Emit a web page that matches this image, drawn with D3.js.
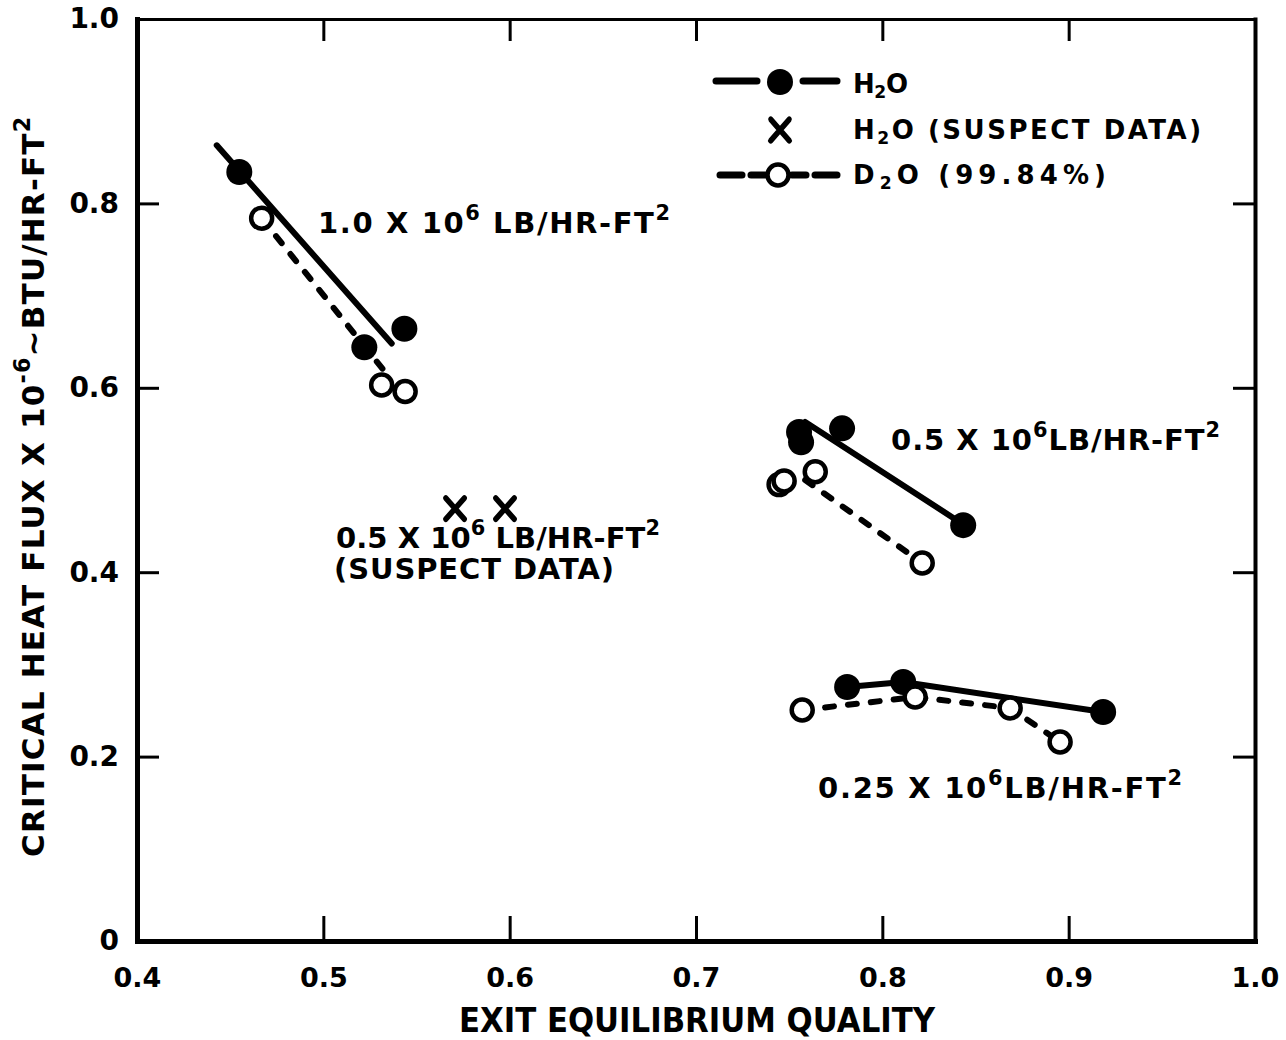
<!DOCTYPE html>
<html>
<head>
<meta charset="utf-8">
<script src="https://cdn.jsdelivr.net/npm/d3@7"></script>
<style>
  html, body { margin: 0; padding: 0; background: #fff; }
  svg { display: block; }
  text { font-family: "DejaVu Sans", "Liberation Sans", sans-serif; font-weight: bold; fill: #000; }
</style>
</head>
<body>
<svg id="chart" width="1286" height="1040"></svg>
<script>
// Critical heat flux versus exit equilibrium quality, light (H2O) and heavy (D2O) water,
// at three mass velocities.

// ---- axis ticks ----
const xTickValues = [0.4, 0.5, 0.6, 0.7, 0.8, 0.9, 1.0];
const xTickLabels = ["0.4", "0.5", "0.6", "0.7", "0.8", "0.9", "1.0"];
const yTickValues = [0, 0.2, 0.4, 0.6, 0.8, 1.0];
const yTickLabels = ["0", "0.2", "0.4", "0.6", "0.8", "1.0"];

// ---- G = 1.0 x 10^6 lb/hr-ft2 : [quality, heat flux] ----
const h2oG100 = [[0.4549, 0.834], [0.5220, 0.644], [0.5435, 0.664]];
const d2oG100 = [[0.4669, 0.784], [0.5313, 0.603], [0.5439, 0.596]];
const h2oFitG100 = [[0.4428, 0.863], [0.5367, 0.648]];
const d2oFitG100 = [[0.4669, 0.784], [0.5320, 0.620]];

// ---- G = 0.5 x 10^6 lb/hr-ft2 ----
const h2oG050 = [[0.7553, 0.552], [0.7564, 0.541], [0.7784, 0.556], [0.8434, 0.451]];
const d2oG050 = [[0.7446, 0.495], [0.7473, 0.499], [0.7640, 0.509], [0.8214, 0.410]];
const h2oFitG050 = [[0.7586, 0.563], [0.8418, 0.454]];
const d2oFitG050 = [[0.7586, 0.500], [0.8214, 0.410]];

// ---- G = 0.5 x 10^6 lb/hr-ft2, suspect H2O data ----
const h2oSuspectG050 = [[0.5707, 0.469], [0.5975, 0.469]];

// ---- G = 0.25 x 10^6 lb/hr-ft2 (points joined in order) ----
const h2oG025 = [[0.7811, 0.2755], [0.8112, 0.2809], [0.9185, 0.2484]];
const d2oG025 = [[0.7570, 0.2505], [0.8176, 0.2646], [0.8686, 0.2527], [0.8954, 0.2158]];

// ---- scales ----
const svg = d3.select("#chart");
const x = d3.scaleLinear().domain([0.4, 1.0]).range([137, 1255]);
const y = d3.scaleLinear().domain([0, 1.0]).range([941, 19]);

const SOLID = { width: 6, dash: null };
const DASHED = { width: 6, dash: "9,14" };

// ---- frame and axes (ticks point inward) ----
function styleAxis(g, domainWidth, fontSize) {
  g.attr("font-family", null).attr("font-size", null);
  g.select(".domain").attr("stroke-width", domainWidth).attr("stroke-linecap", "square");
  g.selectAll(".tick line").attr("stroke-width", 3);
  g.selectAll(".tick text").attr("font-size", fontSize).attr("fill", "#000");
}

svg.append("g")
  .attr("transform", `translate(0,${y(1.0)})`)
  .call(d3.axisTop(x).tickValues(xTickValues.slice(1, -1)).tickFormat(() => "")
    .tickSize(-22).tickSizeOuter(0))
  .call(g => styleAxis(g, 3, 28));

svg.append("g")
  .attr("transform", `translate(${x(1.0)},0)`)
  .call(d3.axisRight(y).tickValues(yTickValues.slice(1, -1)).tickFormat(() => "")
    .tickSize(-22).tickSizeOuter(0))
  .call(g => styleAxis(g, 4, 28));

svg.append("g")
  .attr("transform", `translate(0,${y(0)})`)
  .call(d3.axisBottom(x).tickValues(xTickValues).tickFormat((d, i) => xTickLabels[i])
    .tickSize(-25).tickSizeOuter(0).tickPadding(27))
  .call(g => styleAxis(g, 5, 27));

svg.append("g")
  .attr("transform", `translate(${x(0.4)},0)`)
  .call(d3.axisLeft(y).tickValues(yTickValues).tickFormat((d, i) => yTickLabels[i])
    .tickSize(-22).tickSizeOuter(0).tickPadding(18))
  .call(g => styleAxis(g, 5, 28));

// ---- rich text with super/subscripts, stretched to a given width ----
function richText(parent, px, py, parts, size, width, attrs) {
  const t = parent.append("text").attr("x", px).attr("y", py).attr("font-size", size);
  if (attrs) Object.entries(attrs).forEach(([k, v]) => t.attr(k, v));
  let shift = 0;
  parts.forEach(([str, kind]) => {
    let target = 0, fs = size;
    if (kind === "sup") { target = -0.46 * size; fs = 0.72 * size; }
    if (kind === "sub") { target = 0.2 * size; fs = 0.66 * size; }
    t.append("tspan").attr("dy", target - shift).attr("font-size", fs).text(str);
    shift = target;
  });
  if (width) {
    const node = t.node();
    const w = node.getComputedTextLength();
    const n = node.textContent.length;
    t.attr("letter-spacing", ((width - w) / Math.max(1, n - 1)).toFixed(2));
  }
  return t;
}

// ---- axis titles ----
svg.append("text")
  .attr("x", 697).attr("y", 1032)
  .attr("text-anchor", "middle")
  .attr("font-size", 34)
  .attr("font-family", "'DejaVu Sans Condensed', 'Liberation Sans Narrow', sans-serif")
  .attr("textLength", 476).attr("lengthAdjust", "spacingAndGlyphs")
  .text("EXIT EQUILIBRIUM QUALITY");

const yTitle = svg.append("g").attr("transform", "translate(44,857) rotate(-90)");
richText(yTitle, 0, 0, [
  ["CRITICAL HEAT FLUX X 10", "n"], ["-6", "sup"], ["~BTU/HR-FT", "n"], ["2", "sup"]
], 31, 740);

// ---- marks ----
const line = d3.line().x(d => x(d[0])).y(d => y(d[1]));
const marks = svg.append("g");

function drawLine(data, style) {
  marks.append("path")
    .datum(data)
    .attr("d", line)
    .attr("fill", "none")
    .attr("stroke", "#000")
    .attr("stroke-width", style.width)
    .attr("stroke-linecap", "round")
    .attr("stroke-linejoin", "round")
    .attr("stroke-dasharray", style.dash);
}
function drawFilled(data) {
  marks.append("g").selectAll("circle").data(data).join("circle")
    .attr("cx", d => x(d[0])).attr("cy", d => y(d[1]))
    .attr("r", 13).attr("fill", "#000");
}
function drawOpen(data) {
  marks.append("g").selectAll("circle").data(data).join("circle")
    .attr("cx", d => x(d[0])).attr("cy", d => y(d[1]))
    .attr("r", 10.5).attr("fill", "#fff").attr("stroke", "#000").attr("stroke-width", 4.5);
}
const xSymbol = d3.symbol(d3.symbolX, 250);
function drawCross(data) {
  marks.append("g").selectAll("path").data(data).join("path")
    .attr("transform", d => `translate(${x(d[0])},${y(d[1])}) scale(0.95,1.08)`)
    .attr("d", xSymbol)
    .attr("fill", "none").attr("stroke", "#000").attr("stroke-width", 5.5)
    .attr("stroke-linecap", "round");
}

// fitted / connecting lines
drawLine(h2oFitG100, SOLID);
drawLine(d2oFitG100, DASHED);
drawLine(h2oFitG050, SOLID);
drawLine(d2oFitG050, DASHED);
drawLine(h2oG025, SOLID);
drawLine(d2oG025, DASHED);

// data points
drawFilled(h2oG100);
drawFilled(h2oG050);
drawFilled(h2oG025);
drawOpen(d2oG100);
drawOpen(d2oG050);
drawOpen(d2oG025);
drawCross(h2oSuspectG050);

// ---- mass-velocity annotations ----
const notes = svg.append("g");
richText(notes, 318, 233, [["1.0 X 10", "n"], ["6", "sup"], [" LB/HR-FT", "n"], ["2", "sup"]], 29, 352);
richText(notes, 891, 450, [["0.5 X 10", "n"], ["6", "sup"], ["LB/HR-FT", "n"], ["2", "sup"]], 29, 329);
richText(notes, 818, 798, [["0.25 X 10", "n"], ["6", "sup"], ["LB/HR-FT", "n"], ["2", "sup"]], 29, 364);
richText(notes, 336, 548, [["0.5 X 10", "n"], ["6", "sup"], [" LB/HR-FT", "n"], ["2", "sup"]], 29, 324);
richText(notes, 334, 579, [["(SUSPECT DATA)", "n"]], 29, 280);

// ---- legend ----
const legend = svg.append("g");
// H2O
legend.append("line").attr("x1", 716).attr("x2", 757).attr("y1", 81).attr("y2", 81)
  .attr("stroke", "#000").attr("stroke-width", 7).attr("stroke-linecap", "round");
legend.append("line").attr("x1", 803).attr("x2", 837).attr("y1", 81).attr("y2", 81)
  .attr("stroke", "#000").attr("stroke-width", 7).attr("stroke-linecap", "round");
legend.append("circle").attr("cx", 780).attr("cy", 82).attr("r", 13).attr("fill", "#000");
richText(legend, 853, 93, [["H", "n"], ["2", "sub"], ["O", "n"]], 26, 55);
// H2O suspect
legend.append("path").attr("transform", "translate(780,130) scale(0.95,1.08)").attr("d", xSymbol)
  .attr("fill", "none").attr("stroke", "#000").attr("stroke-width", 5.5).attr("stroke-linecap", "round");
richText(legend, 853, 139, [["H", "n"], ["2", "sub"], ["O (SUSPECT DATA)", "n"]], 26, 348);
// D2O
[[720, 742], [751, 765], [792, 806], [815, 837]].forEach(([a, b]) => {
  legend.append("line").attr("x1", a).attr("x2", b).attr("y1", 175).attr("y2", 175)
    .attr("stroke", "#000").attr("stroke-width", 7).attr("stroke-linecap", "round");
});
legend.append("circle").attr("cx", 778).attr("cy", 175).attr("r", 10.5)
  .attr("fill", "#fff").attr("stroke", "#000").attr("stroke-width", 4.5);
richText(legend, 853, 184, [["D", "n"], ["2", "sub"], ["O (99.84%)", "n"]], 26, 253);
</script>
</body>
</html>
